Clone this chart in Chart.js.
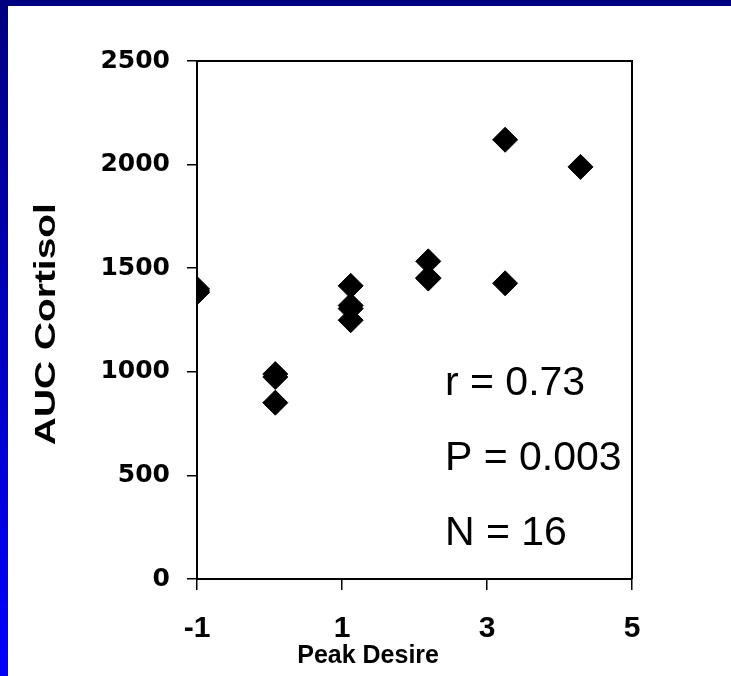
<!DOCTYPE html>
<html>
<head>
<meta charset="utf-8">
<script src="https://cdn.jsdelivr.net/npm/chart.js@4.4.1/dist/chart.umd.min.js"></script>
<style>
html,body{margin:0;padding:0;background:#fff;}
#wrap{width:731px;height:676px;position:relative;}
</style>
</head>
<body>
<div id="wrap"><canvas id="c" width="731" height="676"></canvas></div>
<script>
// Data
const peakDesire = [-1, -1, -1, 0.08, 0.08, 0.08, 1.12, 1.12, 1.12, 1.12, 2.19, 2.19, 2.19, 3.25, 3.25, 4.29];
const aucCortisol = [1400, 1390, 1383, 989, 975, 851, 1415, 1320, 1305, 1249, 1533, 1454, 1450, 2120, 1427, 1989];
const xTicks = [-1, 1, 3, 5];
const yTicks = [0, 500, 1000, 1500, 2000, 2500];
const statLines = ["r = 0.73", "P = 0.003", "N = 16"];
const xTitle = "Peak Desire";
const yTitle = "AUC Cortisol";

const points = peakDesire.map((x, i) => ({x: x, y: aucCortisol[i]}));

const framePlugin = {
  id: 'frame',
  beforeDraw(chart) {
    const ctx = chart.ctx, w = chart.width, h = chart.height;
    ctx.save();
    ctx.fillStyle = '#ffffff';
    ctx.fillRect(0, 0, w, h);
    const g = ctx.createLinearGradient(0, 0, 0, h);
    g.addColorStop(0, '#000080');
    g.addColorStop(1, '#0000ff');
    ctx.fillStyle = g;
    ctx.fillRect(0, 0, 8, h);
    ctx.fillStyle = '#000080';
    ctx.fillRect(0, 0, w, 6);
    ctx.restore();
  },
  afterDraw(chart) {
    const ctx = chart.ctx, a = chart.chartArea;
    const xs = chart.scales.x, ys = chart.scales.y;
    ctx.save();
    // top and right frame lines
    ctx.strokeStyle = '#000';
    ctx.lineWidth = 2;
    ctx.beginPath();
    ctx.moveTo(a.left, a.top);
    ctx.lineTo(a.right, a.top);
    ctx.lineTo(a.right, a.bottom);
    ctx.stroke();
    // statistics text
    ctx.fillStyle = '#000';
    ctx.font = '41px "Liberation Sans", Arial, sans-serif';
    ctx.textAlign = 'left';
    ctx.textBaseline = 'alphabetic';
    const sx = xs.getPixelForValue(2.42);
    const sy = [888, 526, 164];
    statLines.forEach((t, i) => ctx.fillText(t, sx, ys.getPixelForValue(sy[i])));
    // x axis title
    ctx.font = 'bold 25px "Liberation Sans", Arial, sans-serif';
    ctx.textAlign = 'center';
    ctx.fillText(xTitle, xs.getPixelForValue(1.36), 663);
    // y axis title (wide bold lettering, as in the reference)
    ctx.font = 'bold 29px "Liberation Sans", Arial, sans-serif';
    const tw = ctx.measureText(yTitle).width;
    const target = 242;
    ctx.translate(47, ys.getPixelForValue(1230));
    ctx.rotate(-Math.PI / 2);
    ctx.scale(target / tw, 1);
    ctx.textAlign = 'center';
    ctx.textBaseline = 'middle';
    ctx.fillText(yTitle, 0, 0);
    ctx.restore();
  }
};

new Chart(document.getElementById('c'), {
  type: 'scatter',
  data: {
    datasets: [{
      data: points,
      pointStyle: 'rectRot',
      pointRadius: 12.5,
      pointHoverRadius: 12.5,
      backgroundColor: '#000',
      borderColor: '#000',
      borderWidth: 1
    }]
  },
  options: {
    responsive: false,
    animation: false,
    devicePixelRatio: 1,
    layout: {padding: {left: 0, top: 61, right: 99, bottom: 0}},
    plugins: {legend: {display: false}, tooltip: {enabled: false}},
    scales: {
      x: {
        type: 'linear',
        min: -1, max: 5,
        afterBuildTicks(s) { s.ticks = xTicks.map(v => ({value: v})); },
        afterFit(s) { s.height = 97; },
        grid: {drawOnChartArea: false, drawTicks: true, tickLength: 11, color: '#000', lineWidth: 1.5},
        border: {display: true, color: '#000', width: 2},
        ticks: {
          color: '#000', padding: 21, maxRotation: 0,
          callback: v => String(v),
          font: {family: '"Liberation Sans", Arial, sans-serif', size: 30, weight: 'bold'}
        }
      },
      y: {
        type: 'linear',
        min: 0, max: 2500,
        afterBuildTicks(s) { s.ticks = yTicks.map(v => ({value: v})); },
        afterFit(s) { s.width = 197; },
        grid: {drawOnChartArea: false, drawTicks: true, tickLength: 10, color: '#000', lineWidth: 1.5},
        border: {display: true, color: '#000', width: 2},
        ticks: {
          color: '#000', padding: 17,
          callback: v => String(v),
          font: {family: '"DejaVu Sans", sans-serif', size: 25, weight: 'bold'}
        },
        title: {display: false, text: yTitle}
      }
    }
  },
  plugins: [framePlugin]
});
</script>
</body>
</html>
